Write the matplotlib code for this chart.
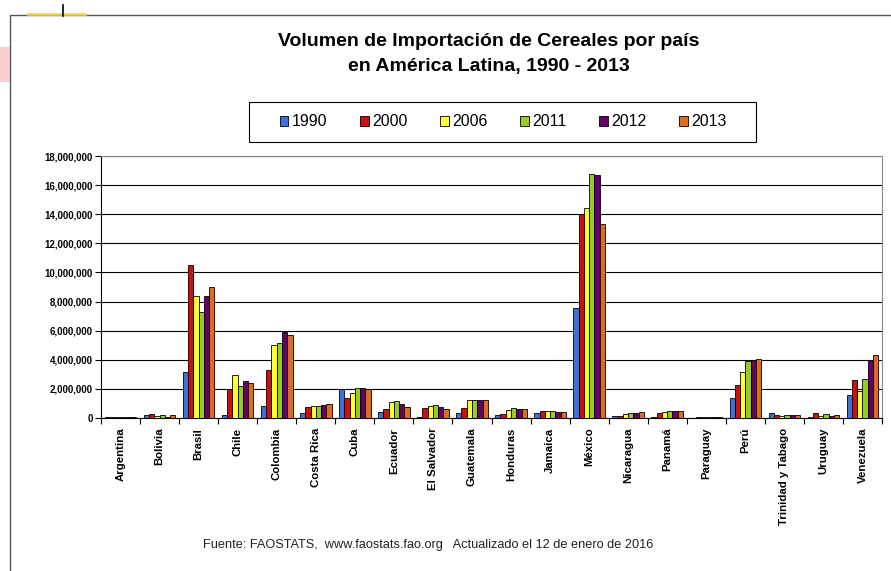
import matplotlib
matplotlib.use("Agg")
import matplotlib.pyplot as plt
import matplotlib.patches as mpatches
from matplotlib.ticker import FuncFormatter, MultipleLocator, FixedLocator
import numpy as np

plt.rcParams['font.family'] = ['Liberation Sans', 'DejaVu Sans']

countries = ["Argentina", "Bolivia", "Brasil", "Chile", "Colombia", "Costa Rica", "Cuba",
             "Ecuador", "El Salvador", "Guatemala", "Honduras", "Jamaica", "México",
             "Nicaragua", "Panamá", "Paraguay", "Perú", "Trinidad y Tabago", "Uruguay", "Venezuela"]
years = ["1990", "2000", "2006", "2011", "2012", "2013"]

v1990 = [40000, 180000, 3160000, 180000, 850000, 320000, 2020000, 440000, 90000, 320000,
         180000, 320000, 7590000, 160000, 90000, 20000, 1350000, 320000, 50000, 1600000]
v2000 = [50000, 275000, 10480000, 1970000, 3280000, 780000, 1350000, 600000, 660000, 660000,
         280000, 460000, 13990000, 160000, 370000, 90000, 2270000, 180000, 320000, 2610000]
v2006 = [40000, 115000, 8350000, 2960000, 5040000, 850000, 1740000, 1120000, 850000, 1260000,
         570000, 500000, 14400000, 250000, 440000, 50000, 3140000, 160000, 160000, 1830000]
v2011 = [45000, 180000, 7310000, 2200000, 5180000, 850000, 2090000, 1190000, 920000, 1260000,
         710000, 500000, 16760000, 320000, 500000, 50000, 3940000, 230000, 250000, 2680000]
v2012 = [40000, 70000, 8350000, 2570000, 5940000, 920000, 2090000, 990000, 730000, 1260000,
         600000, 390000, 16720000, 320000, 500000, 50000, 3990000, 180000, 110000, 4010000]
v2013 = [45000, 180000, 8970000, 2410000, 5710000, 990000, 1990000, 730000, 640000, 1260000,
         640000, 440000, 13300000, 390000, 500000, 90000, 4080000, 230000, 180000, 4360000]

series = [v1990, v2000, v2006, v2011, v2012, v2013]
colors = ["#3F6FD8", "#CC1010", "#FFFF33", "#99CC22", "#660066", "#E06A1E"]

fig = plt.figure(figsize=(8.91, 5.71), dpi=100)

# decorations (outer frame and slide remnants)
fig.patches.append(mpatches.Rectangle((10/891, -0.01), 1.0, 1 - 15/571 + 0.01,
                                      transform=fig.transFigure, fill=False,
                                      edgecolor="#555555", linewidth=1.0))
fig.patches.append(mpatches.Rectangle((27/891, 1 - 16/571), 60/891, 3/571,
                                      transform=fig.transFigure, facecolor="#F2D040",
                                      edgecolor="none", alpha=0.8))
fig.lines.append(plt.Line2D([63/891, 63/891], [1 - 5/571, 1 - 16/571],
                            transform=fig.transFigure, color="black", linewidth=1.2))
fig.patches.append(mpatches.Rectangle((0, 1 - 82/571), 10/891, 35/571,
                                      transform=fig.transFigure, facecolor="#F7B0B0",
                                      edgecolor="none", alpha=0.6))

ax = fig.add_axes([101/891, 153/571, (882 - 101)/891, (418 - 156)/571])

x = np.arange(len(countries))
bw = 0.135
for i, (vals, c, yr) in enumerate(zip(series, colors, years)):
    ax.bar(x + (i - 2.5) * bw, vals, width=bw, color=c, edgecolor="black",
           linewidth=0.6, label=yr, zorder=3)

ax.set_xlim(-0.5, len(countries) - 0.5)
ax.set_ylim(0, 18000000)
ax.yaxis.set_major_locator(MultipleLocator(2000000))
ax.yaxis.set_major_formatter(FuncFormatter(lambda v, p: f"{int(v):,}"))
ax.grid(axis="y", color="black", linewidth=0.8, zorder=0)
ax.set_axisbelow(True)

ax.set_xticks(x)
ax.set_xticklabels(countries, rotation=90, fontsize=8.2, fontweight="bold")
ax.tick_params(axis="x", length=0, pad=7)
ax.xaxis.set_minor_locator(FixedLocator(np.arange(-0.5, len(countries), 1.0)))
ax.tick_params(axis="x", which="minor", length=4, width=0.8, direction="out")
ax.tick_params(axis="y", labelsize=7, length=4, width=0.8, pad=2)
for lab in ax.get_yticklabels():
    lab.set_fontweight("bold")

ax.spines["left"].set_color("black")
ax.spines["bottom"].set_color("black")
ax.spines["top"].set_color("#888888")
ax.spines["right"].set_color("#888888")

fig.text(489/891, 1 - 42/571, "Volumen de Importación de Cereales por país",
         ha="center", va="center", fontsize=14, fontweight="bold")
fig.text(489/891, 1 - 67/571, "en América Latina, 1990 - 2013",
         ha="center", va="center", fontsize=14, fontweight="bold")

# legend box
fig.patches.append(mpatches.Rectangle((249/891, 1 - 142/571), (756 - 249)/891, 40/571,
                                      transform=fig.transFigure, facecolor="white",
                                      edgecolor="black", linewidth=0.8, zorder=5))
handles = [mpatches.Patch(facecolor=c, edgecolor="black", linewidth=0.6) for c in colors]
leg = fig.legend(handles, years, loc="center", bbox_to_anchor=(503/891, 1 - 122/571),
                 ncol=6, fontsize=11.5, frameon=False,
                 handlelength=0.55, handleheight=0.55, handletextpad=0.2,
                 columnspacing=2.05, borderpad=0, borderaxespad=0)
leg.set_zorder(6)

fig.text(428/891, 1 - 545/571,
         "Fuente: FAOSTATS,  www.faostats.fao.org   Actualizado el 12 de enero de 2016",
         ha="center", va="center", fontsize=9.2, color="#222222")

fig.savefig("out.png", dpi=100)
